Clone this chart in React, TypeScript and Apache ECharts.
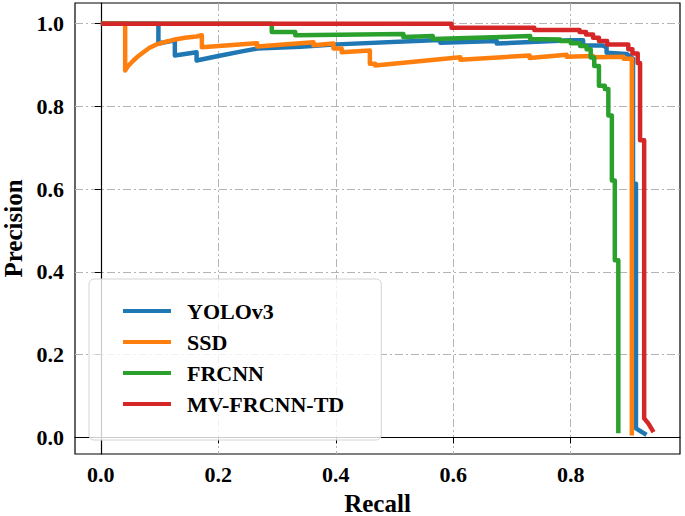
import React, { useEffect, useRef } from "react";
import * as echarts from "echarts";

// Tick labels
const xTicks = [0, 0.2, 0.4, 0.6, 0.8];
const yTicks = [0, 0.2, 0.4, 0.6, 0.8, 1.0];

const seriesNames = ["YOLOv3", "SSD", "FRCNN", "MV-FRCNN-TD"];
const seriesColors = ["#1f77b4", "#ff7f0e", "#2ca02c", "#d62728"];

// [recall, precision] pairs
const yoloPoints: [number, number][] = [
  [0, 1.0], [0.098, 1.0], [0.098, 0.952], [0.126, 0.960], [0.126, 0.923],
  [0.163, 0.931], [0.163, 0.911], [0.2, 0.922], [0.24, 0.933], [0.266, 0.94],
  [0.34, 0.944], [0.402, 0.95], [0.566, 0.96], [0.578, 0.96], [0.578, 0.954],
  [0.674, 0.958], [0.674, 0.952], [0.8, 0.96], [0.821, 0.96], [0.821, 0.947],
  [0.855, 0.947], [0.861, 0.943], [0.861, 0.93], [0.895, 0.927], [0.906, 0.915],
  [0.906, 0.613], [0.911, 0.613], [0.911, 0.022], [0.929, 0.006],
];

const ssdPoints: [number, number][] = [
  [0, 1.0], [0.0414, 1.0], [0.0414, 0.887], [0.046, 0.897], [0.0555, 0.911],
  [0.064, 0.922], [0.0725, 0.931], [0.083, 0.942], [0.095, 0.95], [0.11, 0.956],
  [0.124, 0.961], [0.143, 0.966], [0.163, 0.969], [0.172, 0.972], [0.172, 0.943],
  [0.266, 0.953], [0.266, 0.945], [0.362, 0.955], [0.362, 0.948], [0.396, 0.952],
  [0.396, 0.94], [0.41, 0.94], [0.41, 0.931], [0.458, 0.935], [0.458, 0.903],
  [0.467, 0.903], [0.467, 0.899], [0.612, 0.919], [0.612, 0.913], [0.73, 0.923],
  [0.73, 0.917], [0.793, 0.925], [0.793, 0.92], [0.838, 0.922], [0.838, 0.919],
  [0.89, 0.92], [0.89, 0.915], [0.904, 0.915], [0.904, 0.005],
];

const frcnnPoints: [number, number][] = [
  [0, 1.0], [0.291, 1.0], [0.291, 0.98], [0.331, 0.98], [0.331, 0.972],
  [0.515, 0.975], [0.515, 0.968], [0.565, 0.97], [0.565, 0.963], [0.731, 0.97],
  [0.731, 0.963], [0.782, 0.962], [0.782, 0.958], [0.8, 0.958], [0.8, 0.953],
  [0.816, 0.953], [0.816, 0.946], [0.827, 0.946], [0.827, 0.938], [0.834, 0.938],
  [0.834, 0.918], [0.84, 0.918], [0.84, 0.898], [0.848, 0.898], [0.848, 0.85],
  [0.858, 0.85], [0.858, 0.842], [0.864, 0.842], [0.864, 0.778], [0.87, 0.778],
  [0.87, 0.621], [0.875, 0.621], [0.875, 0.428], [0.881, 0.428], [0.881, 0.01],
];

const mvPoints: [number, number][] = [
  [0, 1.0], [0.597, 1.0], [0.597, 0.99], [0.738, 0.99], [0.738, 0.985],
  [0.815, 0.985], [0.815, 0.98], [0.826, 0.98], [0.826, 0.974], [0.838, 0.974],
  [0.838, 0.966], [0.848, 0.966], [0.848, 0.958], [0.862, 0.958], [0.862, 0.95],
  [0.898, 0.95], [0.898, 0.938], [0.905, 0.938], [0.905, 0.928], [0.914, 0.928],
  [0.914, 0.905], [0.918, 0.905], [0.918, 0.718], [0.925, 0.718], [0.925, 0.046],
  [0.932, 0.034], [0.941, 0.013],
];

const allPoints = [yoloPoints, ssdPoints, frcnnPoints, mvPoints];

const FONT = "'Liberation Serif', 'Times New Roman', serif";

export default function App() {
  const ref = useRef<HTMLDivElement>(null);

  useEffect(() => {
    if (!ref.current) return;
    const chart = echarts.init(ref.current, undefined, { renderer: "svg" });
    const gridLine = {
      show: true,
      lineStyle: { color: "#b4b4b4", width: 1, type: [8, 3, 2, 3] as any },
    };
    const axisText = {
      fontFamily: FONT,
      fontWeight: "bold" as const,
      fontSize: 22,
      color: "#000",
    };
    const titleText = {
      fontFamily: FONT,
      fontWeight: "bold" as const,
      fontSize: 25,
      lineHeight: 25,
      color: "#000",
    };
    chart.setOption({
      animation: false,
      backgroundColor: "#fff",
      grid: {
        left: 75,
        right: 5,
        top: 3,
        bottom: 62,
        show: true,
        borderColor: "#000",
        borderWidth: 1.2,
        outerBoundsMode: "none",
      },
      legend: {
        orient: "vertical",
        left: 89,
        top: 279,
        icon: "rect",
        itemWidth: 48,
        itemHeight: 4,
        itemGap: 7,
        padding: [20, 37, 24, 34],
        backgroundColor: "rgba(255,255,255,0.8)",
        borderColor: "#d4d4d4",
        borderWidth: 1,
        borderRadius: 5,
        selectedMode: false,
        textStyle: { ...axisText, lineHeight: 24, padding: [0, 0, 0, 11] },
        data: seriesNames,
      },
      xAxis: {
        type: "value",
        min: -0.044,
        max: 0.986,
        name: "Recall",
        nameLocation: "middle",
        nameGap: 37,
        nameTextStyle: titleText,
        axisLine: { show: true, lineStyle: { color: "#000", width: 1.2 } },
        axisTick: { show: true, inside: false, length: 6, lineStyle: { color: "#000" }, customValues: xTicks },
        axisLabel: {
          ...axisText,
          margin: 9,
          customValues: xTicks,
          formatter: (v: number) => v.toFixed(1),
        },
        splitLine: gridLine,
      },
      yAxis: {
        type: "value",
        min: -0.04,
        max: 1.05,
        name: "Precision",
        nameLocation: "middle",
        nameGap: 43,
        nameRotate: 90,
        nameTextStyle: titleText,
        axisLine: { show: true, lineStyle: { color: "#000", width: 1.2 } },
        axisTick: { show: true, inside: false, length: 6, lineStyle: { color: "#000" }, customValues: yTicks },
        axisLabel: {
          ...axisText,
          margin: 11,
          customValues: yTicks,
          formatter: (v: number) => v.toFixed(1),
        },
        splitLine: gridLine,
      },
      series: seriesNames.map((name, i) => ({
        name,
        type: "line",
        data: allPoints[i],
        showSymbol: false,
        symbol: "none",
        color: seriesColors[i],
        lineStyle: { color: seriesColors[i], width: 4.5, join: "round" },
        z: 2 + i,
      })),
    });
    return () => chart.dispose();
  }, []);

  return (
    <div
      ref={ref}
      style={{ position: "fixed", left: 0, top: 0, width: 685, height: 516 }}
    />
  );
}
